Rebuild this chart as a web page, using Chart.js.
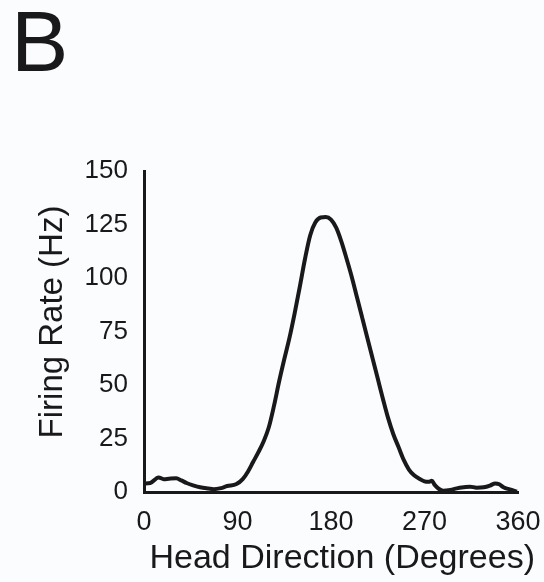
<!DOCTYPE html>
<html lang="en">
<head>
    <meta charset="UTF-8">
    <meta name="viewport" content="width=device-width, initial-scale=1.0">
    <title>Head Direction Cell</title>
    <script src="https://cdn.jsdelivr.net/npm/chart.js"></script>
    <style>
        body {
            margin: 0;
            background: #fbfcfd;
        }
        #chart-container {
            position: relative;
            width: 544px;
            height: 582px;
        }
    </style>
</head>
<body>
    <div id="chart-container">
        <canvas id="hdChart"></canvas>
    </div>

    <script>
        // values
        const headDirection = [0, 6, 14, 19, 24, 31, 36, 41, 48, 54, 62, 67, 74, 80, 89, 95, 100, 105, 110, 115,
            120, 125, 130, 135, 140, 145, 150, 155, 160, 165, 170, 175, 180, 185, 190, 195, 200, 205, 210, 215,
            220, 225, 230, 235, 240, 245, 250, 255, 260, 265, 270, 274, 277, 280, 284, 288, 295, 301, 308, 314,
            320, 327, 333, 338, 342, 346, 352, 359];
        const firingRate = [4.0, 4.2, 6.8, 6.0, 6.2, 6.4, 5.4, 4.2, 3.0, 2.2, 1.6, 1.3, 1.8, 2.8, 3.7, 6.0, 9.5, 14, 18.5, 23.5,
            30, 40, 51.5, 62, 72, 83.5, 96, 109, 120, 126, 128.3, 128.5, 127.3, 123.5, 117, 109, 100.5, 91, 81.5, 72,
            62.5, 53, 43.5, 34.5, 27, 21, 15, 10.5, 7.8, 6.2, 5.0, 4.8, 5.2, 3.2, 1.4, 0.6, 1.0, 1.7, 2.2, 2.5,
            2.0, 2.2, 3.0, 4.0, 3.6, 2.2, 1.2, 0.2];
        const xTicks = [0, 90, 180, 270, 360];
        const yTicks = [0, 25, 50, 75, 100, 125, 150];

        const panelLabel = 'B';
        const xTitle = 'Head Direction (Degrees)';
        const yTitle = 'Firing Rate (Hz)';

        const ink = '#19191b';
        const fontFamily = '"Liberation Sans", Arial, Helvetica, sans-serif';

        // panel letter + axis titles, placed relative to the plot area
        const titlesPlugin = {
            id: 'titles',
            afterDraw(chart) {
                const ctx = chart.ctx;
                const area = chart.chartArea;
                ctx.save();
                ctx.fillStyle = ink;
                ctx.textBaseline = 'alphabetic';

                ctx.font = '86px ' + fontFamily;
                ctx.textAlign = 'left';
                ctx.fillText(panelLabel, 11, 71);

                ctx.font = '34px ' + fontFamily;
                ctx.textAlign = 'center';
                ctx.fillText(xTitle, area.left + area.width * 0.53, area.bottom + 76);

                ctx.font = '33px ' + fontFamily;
                ctx.translate(area.left - 82, area.top + 151);
                ctx.rotate(-Math.PI / 2);
                ctx.fillText(yTitle, 0, 0);
                ctx.restore();
            }
        };

        const points = headDirection.map((d, i) => ({ x: d, y: firingRate[i] }));

        new Chart(document.getElementById('hdChart'), {
            type: 'line',
            data: {
                datasets: [{
                    data: points,
                    borderColor: ink,
                    borderWidth: 4,
                    pointRadius: 0,
                    cubicInterpolationMode: 'monotone',
                    fill: false
                }]
            },
            options: {
                responsive: true,
                maintainAspectRatio: false,
                animation: false,
                layout: {
                    padding: { left: 0, top: 171, right: 26, bottom: 0 }
                },
                plugins: {
                    legend: { display: false },
                    tooltip: { enabled: false }
                },
                scales: {
                    x: {
                        type: 'linear',
                        min: 0,
                        max: 360,
                        afterBuildTicks: s => { s.ticks = xTicks.map(v => ({ value: v })); },
                        afterFit: s => {
                            s.height = 90;
                            s.paddingLeft = 0;
                            s.paddingRight = 0;
                        },
                        grid: { display: true, drawOnChartArea: false, drawTicks: false },
                        border: { display: true, color: ink, width: 3 },
                        ticks: {
                            color: ink,
                            padding: 14,
                            maxRotation: 0,
                            font: { family: fontFamily, size: 27 }
                        }
                    },
                    y: {
                        min: 0,
                        max: 150,
                        afterBuildTicks: s => { s.ticks = yTicks.map(v => ({ value: v })); },
                        afterFit: s => { s.width = 144; },
                        grid: { display: true, drawOnChartArea: false, drawTicks: false },
                        border: { display: true, color: ink, width: 3 },
                        ticks: {
                            color: ink,
                            padding: 16,
                            font: { family: fontFamily, size: 26 }
                        }
                    }
                }
            },
            plugins: [titlesPlugin]
        });
    </script>
</body>
</html>
